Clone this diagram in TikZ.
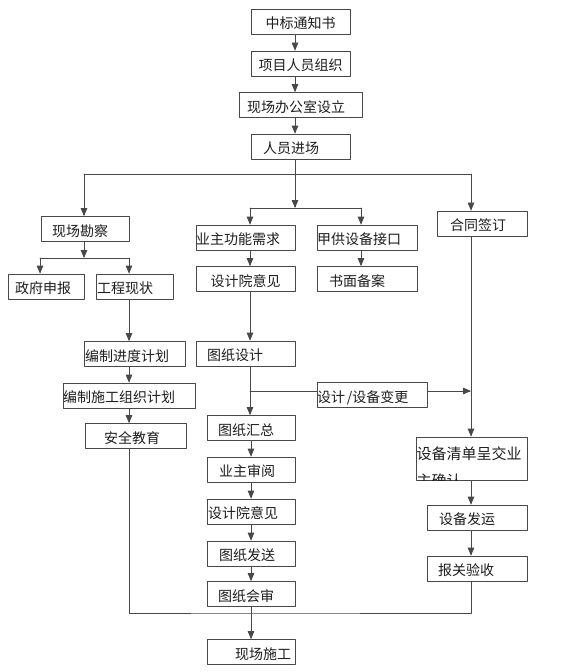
\documentclass[tikz,border=0pt]{standalone}
\usepackage{fontspec}
\newfontfamily\cjk{Noto Sans CJK SC}
\usetikzlibrary{arrows}
\definecolor{linegray}{HTML}{484848}
\definecolor{txtgray}{HTML}{1E1E1E}
\tikzset{
  blk/.style={draw=linegray, fill=white, line width=0.8pt, minimum height=25pt, inner ysep=0pt, text height=14.5pt, text depth=0pt, text=txtgray, font=\cjk\fontsize{14}{16}\selectfont},
}

\begin{document}
\begin{tikzpicture}[line cap=round,line join=round,>=triangle 45,x=1pt,y=-1pt,color=linegray,line width=0.8pt]
			\useasboundingbox (0,0) rectangle (586,672);
			% main column
			\node[blk, minimum width=99pt, inner xsep=0pt] (zb) at (300.5,21.5) {中标通知书};
			\node[blk, minimum width=99pt, inner xsep=0pt] (xm) at (300.5,63.5) {项目人员组织};
			\node[blk, inner xsep=8pt, text width=107pt, align=left] (bg) at (300.5,105) {现场办公室设立};
			\node[blk, inner xsep=12pt, text width=75pt, align=left] (jc) at (300.5,146.5) {人员进场};
			% left branch
			\node[blk, inner xsep=11pt, text width=66pt, align=left] (kc) at (85,229) {现场勘察};
			\node[blk, inner xsep=7pt, text width=62pt, align=left] (zf) at (46,286.5) {政府申报};
			\node[blk, inner xsep=1pt, text width=75pt, align=left] (gc) at (134.5,286.5) {工程现状};
			\node[blk, inner xsep=1pt, text width=99pt, align=left] (jd) at (134.5,354) {编制进度计划};
			\node[blk, inner xsep=0pt, text width=132pt, align=left] (sg) at (129,395.5) {编制施工组织计划};
			\node[blk, inner xsep=19pt, text width=63pt, align=left] (aq) at (135.5,436) {安全教育};
			% middle branch
			\node[blk, inner xsep=0pt, text width=99pt, align=left] (yz) at (245.5,237.5) {业主功能需求};
			\node[blk, inner xsep=0pt, text width=100pt, align=left] (jg) at (367,237.5) {甲供设备接口};
			\node[blk, minimum width=99pt, inner xsep=0pt] (sy) at (245.5,279) {设计院意见};
			\node[blk, inner xsep=12pt, text width=76pt, align=left] (sm) at (367,279) {书面备案};
			\node[blk, inner xsep=11pt, text width=77pt, align=left] (tz) at (245.5,353.5) {图纸设计};
			\node[blk, inner xsep=0pt, text width=110pt, align=left] (bb) at (372,395) {设计\hspace{2pt}/设备变更};
			\node[blk, inner xsep=11pt, text width=66pt, align=left] (hz) at (251,428) {图纸汇总};
			\node[blk, inner xsep=12pt, text width=64pt, align=left] (sh) at (251,469.5) {业主审阅};
			\node[blk, inner xsep=1pt, text width=86pt, align=left] (sy2) at (251,511.5) {设计院意见};
			\node[blk, inner xsep=12pt, text width=64pt, align=left] (fs) at (251,553.5) {图纸发送};
			\node[blk, inner xsep=11pt, text width=66pt, align=left] (hs) at (251,594) {图纸会审};
			\node[blk, inner xsep=28pt, text width=32pt, align=left] (xs) at (251,652) {现场施工};
			% right branch
			\node[blk, inner xsep=13pt, text width=64pt, align=left] (ht) at (482,223.5) {合同签订};
			\node[blk, minimum width=111pt, minimum height=43pt, inner sep=0pt] (qd) at (471.5,458.5) {};
			\begin{scope}
				\clip (qd.north west) rectangle (qd.south east);
				\node[anchor=north west, inner sep=0pt, align=left, text=txtgray, font=\cjk\fontsize{15}{27}\selectfont] (qdt) at ([xshift=0.5pt,yshift=-9.5pt]qd.north west) {设备清单呈交业\\主确认};
			\end{scope}
			\node[blk, inner xsep=12pt, text width=76pt, align=left] (fy) at (477,517.5) {设备发运};
			\node[blk, inner xsep=11pt, text width=78pt, align=left] (ys) at (477,568.5) {报关验收};
			% junctions
			\coordinate (lb) at (84,174);
			\coordinate (rb) at (471,174);
			\coordinate (f1) at (295,208);
			\coordinate (f1l) at (250,208);
			\coordinate (f1r) at (361,208);
			\coordinate (f2) at (84,258);
			\coordinate (f2l) at (40,258);
			\coordinate (f2r) at (129,258);
			\coordinate (dv) at (250,391);
			\coordinate (mg) at (251,613);
			% connectors
			\draw[->] (zb.south -| f1) -- (xm.north -| f1);
			\draw[->] (xm.south -| f1) -- (bg.north -| f1);
			\draw[->] (bg.south -| f1) -- (jc.north -| f1);
			\draw[->] (jc.south -| f1) -- (f1);
			\draw (lb) -- (rb);
			\draw[->] (lb) -- (lb |- kc.north);
			\draw[->] (rb) -- (rb |- ht.north);
			\draw (f1l) -- (f1r);
			\draw[->] (f1l) -- (f1l |- yz.north);
			\draw[->] (f1r) -- (f1r |- jg.north);
			\draw[->] (yz.south -| f1l) -- (sy.north -| f1l);
			\draw[->] (jg.south -| f1r) -- (sm.north -| f1r);
			\draw[->] (sy.south -| f1l) -- (tz.north -| f1l);
			\draw[->] (tz.south -| dv) -- (hz.north -| dv);
			\draw (dv) -- (dv -| bb.west);
			\draw[->] (dv -| bb.east) -- (dv -| rb);
			\draw[->] (kc.south -| f2) -- (f2);
			\draw (f2l) -- (f2r);
			\draw[->] (f2l) -- (f2l |- zf.north);
			\draw[->] (f2r) -- (f2r |- gc.north);
			\draw[->] (gc.south -| f2r) -- (jd.north -| f2r);
			\draw[->] (jd.south -| f2r) -- (sg.north -| f2r);
			\draw[->] (sg.south -| f2r) -- (aq.north -| f2r);
			\draw[->] (hz.south -| mg) -- (sh.north -| mg);
			\draw[->] (sh.south -| mg) -- (sy2.north -| mg);
			\draw[->] (sy2.south -| mg) -- (fs.north -| mg);
			\draw[->] (fs.south -| mg) -- (hs.north -| mg);
			\draw[->] (hs.south -| mg) -- (xs.north -| mg);
			\draw[->] (ht.south -| rb) -- (qd.north -| rb);
			\draw[->] (qd.south -| rb) -- (fy.north -| rb);
			\draw[->] (fy.south -| rb) -- (ys.north -| rb);
			\draw (aq.south -| f2r) |- (mg) -| (ys.south -| rb);
\end{tikzpicture}
\end{document}
